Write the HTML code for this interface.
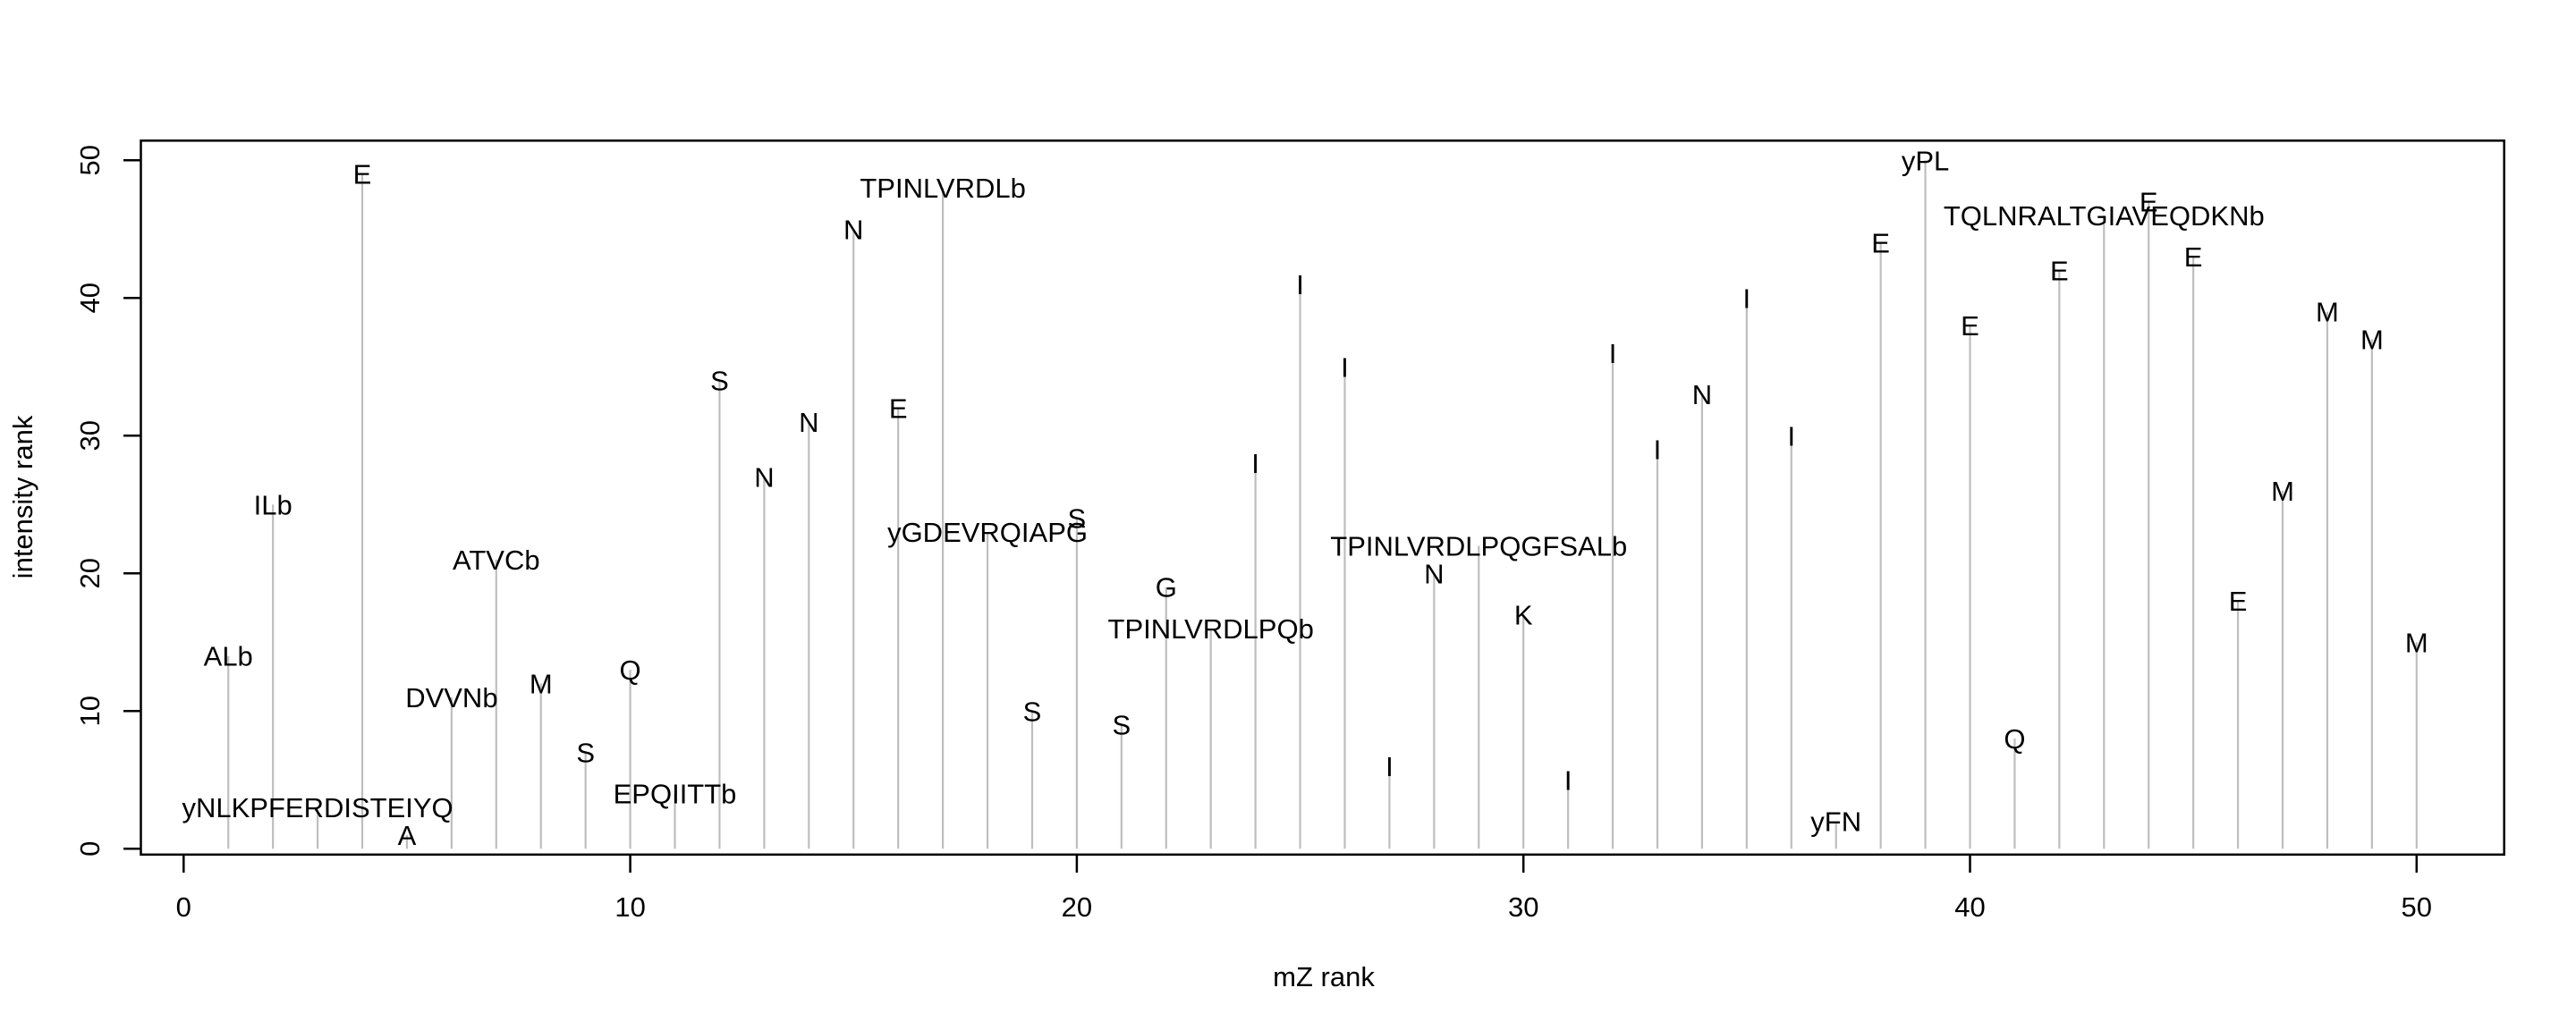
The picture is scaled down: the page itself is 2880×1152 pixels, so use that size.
<!DOCTYPE html>
<html><head><meta charset="utf-8"><style>
html,body{margin:0;padding:0;background:#fff;}
svg{display:block;font-family:"Liberation Sans",Arial,sans-serif;}
</style></head><body>
<svg id="chart" width="2880" height="1152" viewBox="0 0 2880 1152" xmlns="http://www.w3.org/2000/svg">
<rect x="0" y="0" width="2880" height="1152" fill="#fff"/>
<g id="spikes"></g>
<g id="labels"></g>
<rect x="157.5" y="157.3" width="2642.2" height="798.5" fill="none" stroke="#000" stroke-width="2.5"/>
<g id="xaxis"></g>
<g id="yaxis"></g>
<text x="1480" y="1103" font-size="31" text-anchor="middle">mZ rank</text>
<text x="0" y="0" font-size="31" text-anchor="middle" transform="translate(36,556) rotate(-90)">intensity rank</text>
</svg>
<script>
const mzRank = [1,2,3,4,5,6,7,8,9,10,11,12,13,14,15,16,17,18,19,20,21,22,23,24,25,26,27,28,29,30,31,32,33,34,35,36,37,38,39,40,41,42,43,44,45,46,47,48,49,50];
const intensityRank = [14,25,3,49,1,11,21,12,7,13,4,34,27,31,45,32,48,23,10,24,9,19,16,28,41,35,6,20,22,17,5,36,29,33,40,30,2,44,50,38,8,42,46,47,43,18,26,39,37,15];
const peakLabels = ["ALb","ILb","yNLKPFERDISTEIYQ","E","A","DVVNb","ATVCb","M","S","Q","EPQIITTb","S","N","N","N","E","TPINLVRDLb","yGDEVRQIAPG","S","S","S","G","TPINLVRDLPQb","I","I","I","I","N","TPINLVRDLPQGFSALb","K","I","I","I","N","I","I","yFN","E","yPL","E","Q","E","TQLNRALTGIAVEQDKNb","E","E","E","M","M","M","M"];
const xTicks = [0,10,20,30,40,50];
const yTicks = [0,10,20,30,40,50];

const NS = "http://www.w3.org/2000/svg";
function sx(v){ return 205.3 + v * 49.93; }
function sy(v){ return 949.3 - v * 15.4; }
function mk(tag, attrs){ const e = document.createElementNS(NS, tag); for (const k in attrs) e.setAttribute(k, attrs[k]); return e; }

const gS = document.getElementById('spikes');
const gL = document.getElementById('labels');
mzRank.forEach((m, i) => {
  const v = intensityRank[i];
  const ln = mk('line', {x1: sx(m), x2: sx(m), y1: sy(0), y2: sy(v), stroke: '#bebebe', 'stroke-width': 2.2});
  
  
  gS.appendChild(ln);
  const t = mk('text', {x: sx(m), y: sy(v) + 11, 'font-size': 31, 'text-anchor': 'middle'});
  t.textContent = peakLabels[i];
  
  
  gL.appendChild(t);
});

const gX = document.getElementById('xaxis');
xTicks.forEach(v => {
  const tk = mk('line', {x1: sx(v), x2: sx(v), y1: 956, y2: 976, stroke: '#000', 'stroke-width': 2.5});
  
  
  gX.appendChild(tk);
  const t = mk('text', {x: sx(v), y: 1025, 'font-size': 31, 'text-anchor': 'middle'});
  t.textContent = v;
  
  
  gX.appendChild(t);
});
const gY = document.getElementById('yaxis');
yTicks.forEach(v => {
  const tk = mk('line', {x1: 138, x2: 157.5, y1: sy(v), y2: sy(v), stroke: '#000', 'stroke-width': 2.5});
  
  
  gY.appendChild(tk);
  const t = mk('text', {x: 0, y: 0, 'font-size': 31, 'text-anchor': 'middle', transform: 'translate(111,' + sy(v) + ') rotate(-90)'});
  t.textContent = v;
  
  
  gY.appendChild(t);
});
</script>
</body></html>
